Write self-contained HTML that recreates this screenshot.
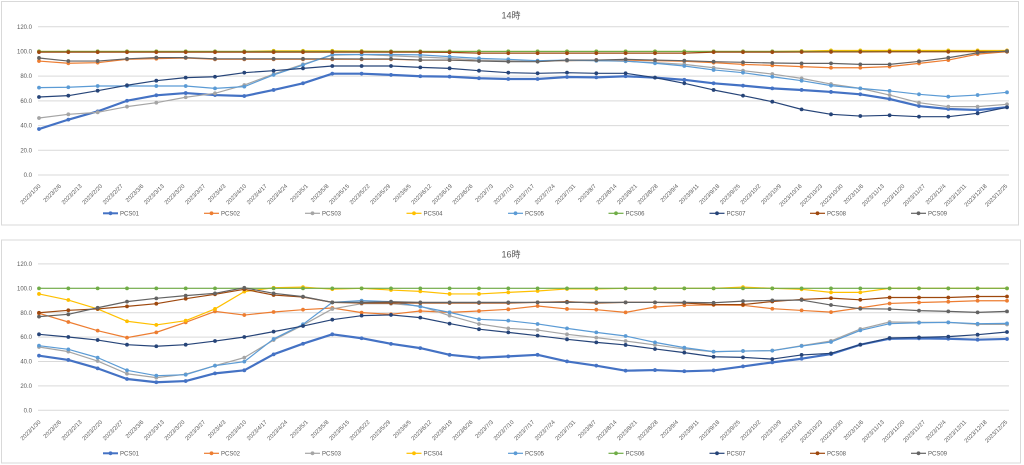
<!DOCTYPE html>
<html><head><meta charset="utf-8"><style>
html,body{margin:0;padding:0;background:#fff;}
svg{display:block;font-family:"Liberation Sans","Noto Sans CJK JP",sans-serif;}
.pl{fill:none;vector-effect:non-scaling-stroke;stroke-linejoin:round;}
</style></head><body>
<svg width="1024" height="465" viewBox="0 0 1024 465" xmlns="http://www.w3.org/2000/svg">
<defs>
<marker id="m1" markerUnits="userSpaceOnUse" markerWidth="6" markerHeight="6" refX="3" refY="3" overflow="visible"><ellipse cx="3" cy="3" rx="1.9" ry="1.55" fill="#4472C4"/></marker>
<marker id="m2" markerUnits="userSpaceOnUse" markerWidth="6" markerHeight="6" refX="3" refY="3" overflow="visible"><ellipse cx="3" cy="3" rx="1.9" ry="1.55" fill="#ED7D31"/></marker>
<marker id="m3" markerUnits="userSpaceOnUse" markerWidth="6" markerHeight="6" refX="3" refY="3" overflow="visible"><ellipse cx="3" cy="3" rx="1.9" ry="1.55" fill="#A5A5A5"/></marker>
<marker id="m4" markerUnits="userSpaceOnUse" markerWidth="6" markerHeight="6" refX="3" refY="3" overflow="visible"><ellipse cx="3" cy="3" rx="1.9" ry="1.55" fill="#FFC000"/></marker>
<marker id="m5" markerUnits="userSpaceOnUse" markerWidth="6" markerHeight="6" refX="3" refY="3" overflow="visible"><ellipse cx="3" cy="3" rx="1.9" ry="1.55" fill="#5B9BD5"/></marker>
<marker id="m6" markerUnits="userSpaceOnUse" markerWidth="6" markerHeight="6" refX="3" refY="3" overflow="visible"><ellipse cx="3" cy="3" rx="1.9" ry="1.55" fill="#70AD47"/></marker>
<marker id="m7" markerUnits="userSpaceOnUse" markerWidth="6" markerHeight="6" refX="3" refY="3" overflow="visible"><ellipse cx="3" cy="3" rx="1.9" ry="1.55" fill="#264478"/></marker>
<marker id="m8" markerUnits="userSpaceOnUse" markerWidth="6" markerHeight="6" refX="3" refY="3" overflow="visible"><ellipse cx="3" cy="3" rx="1.9" ry="1.55" fill="#9E480E"/></marker>
<marker id="m9" markerUnits="userSpaceOnUse" markerWidth="6" markerHeight="6" refX="3" refY="3" overflow="visible"><ellipse cx="3" cy="3" rx="1.9" ry="1.55" fill="#636363"/></marker>
</defs>
<rect width="1024" height="465" fill="#fff"/>

<!-- ============ TOP CHART ============ -->
<rect x="1.5" y="1.5" width="1017" height="223.5" fill="#fff" stroke="#D9D9D9" stroke-width="1"/>
<text x="511" y="18.5" font-size="9" fill="#595959" text-anchor="middle">14時</text>
<g stroke="#D9D9D9" stroke-width="1">
<line x1="38" y1="26.7" x2="1009" y2="26.7"/><line x1="38" y1="51.4" x2="1009" y2="51.4"/><line x1="38" y1="76.1" x2="1009" y2="76.1"/><line x1="38" y1="100.9" x2="1009" y2="100.9"/><line x1="38" y1="125.6" x2="1009" y2="125.6"/><line x1="38" y1="150.3" x2="1009" y2="150.3"/><line x1="38" y1="175" x2="1009" y2="175"/>
</g>
<g font-size="6" fill="#595959" text-anchor="end">
<text x="32" y="28.8">120.0</text><text x="32" y="53.5">100.0</text><text x="32" y="78.2">80.0</text><text x="32" y="103">60.0</text><text x="32" y="127.7">40.0</text><text x="32" y="152.4">20.0</text><text x="32" y="177.1">0.0</text>
</g>
<g font-size="5.8" fill="#595959" text-anchor="end">
<text transform="translate(41,186.5) rotate(-45)">2023/1/30</text>
<text transform="translate(61.6,186.5) rotate(-45)">2023/2/6</text>
<text transform="translate(82.1,186.5) rotate(-45)">2023/2/13</text>
<text transform="translate(102.7,186.5) rotate(-45)">2023/2/20</text>
<text transform="translate(123.3,186.5) rotate(-45)">2023/2/27</text>
<text transform="translate(143.9,186.5) rotate(-45)">2023/3/6</text>
<text transform="translate(164.4,186.5) rotate(-45)">2023/3/13</text>
<text transform="translate(185,186.5) rotate(-45)">2023/3/20</text>
<text transform="translate(205.6,186.5) rotate(-45)">2023/3/27</text>
<text transform="translate(226.1,186.5) rotate(-45)">2023/4/3</text>
<text transform="translate(246.7,186.5) rotate(-45)">2023/4/10</text>
<text transform="translate(267.3,186.5) rotate(-45)">2023/4/17</text>
<text transform="translate(287.8,186.5) rotate(-45)">2023/4/24</text>
<text transform="translate(308.4,186.5) rotate(-45)">2023/5/1</text>
<text transform="translate(329,186.5) rotate(-45)">2023/5/8</text>
<text transform="translate(349.6,186.5) rotate(-45)">2023/5/15</text>
<text transform="translate(370.1,186.5) rotate(-45)">2023/5/22</text>
<text transform="translate(390.7,186.5) rotate(-45)">2023/5/29</text>
<text transform="translate(411.3,186.5) rotate(-45)">2023/6/5</text>
<text transform="translate(431.8,186.5) rotate(-45)">2023/6/12</text>
<text transform="translate(452.4,186.5) rotate(-45)">2023/6/19</text>
<text transform="translate(473,186.5) rotate(-45)">2023/6/26</text>
<text transform="translate(493.5,186.5) rotate(-45)">2023/7/3</text>
<text transform="translate(514.1,186.5) rotate(-45)">2023/7/10</text>
<text transform="translate(534.7,186.5) rotate(-45)">2023/7/17</text>
<text transform="translate(555.3,186.5) rotate(-45)">2023/7/24</text>
<text transform="translate(575.8,186.5) rotate(-45)">2023/7/31</text>
<text transform="translate(596.4,186.5) rotate(-45)">2023/8/7</text>
<text transform="translate(617,186.5) rotate(-45)">2023/8/14</text>
<text transform="translate(637.5,186.5) rotate(-45)">2023/8/21</text>
<text transform="translate(658.1,186.5) rotate(-45)">2023/8/28</text>
<text transform="translate(678.7,186.5) rotate(-45)">2023/9/4</text>
<text transform="translate(699.2,186.5) rotate(-45)">2023/9/11</text>
<text transform="translate(719.8,186.5) rotate(-45)">2023/9/18</text>
<text transform="translate(740.4,186.5) rotate(-45)">2023/9/25</text>
<text transform="translate(761,186.5) rotate(-45)">2023/10/2</text>
<text transform="translate(781.5,186.5) rotate(-45)">2023/10/9</text>
<text transform="translate(802.1,186.5) rotate(-45)">2023/10/16</text>
<text transform="translate(822.7,186.5) rotate(-45)">2023/10/23</text>
<text transform="translate(843.2,186.5) rotate(-45)">2023/10/30</text>
<text transform="translate(863.8,186.5) rotate(-45)">2023/11/6</text>
<text transform="translate(884.4,186.5) rotate(-45)">2023/11/13</text>
<text transform="translate(904.9,186.5) rotate(-45)">2023/11/20</text>
<text transform="translate(925.5,186.5) rotate(-45)">2023/11/27</text>
<text transform="translate(946.1,186.5) rotate(-45)">2023/12/4</text>
<text transform="translate(966.7,186.5) rotate(-45)">2023/12/11</text>
<text transform="translate(987.2,186.5) rotate(-45)">2023/12/18</text>
<text transform="translate(1007.8,186.5) rotate(-45)">2023/12/25</text>
</g>
<g transform="translate(0,175) scale(1,-1.2358)">
<polyline class="pl" stroke="#4472C4" stroke-width="2.2" marker-start="url(#m1)" marker-mid="url(#m1)" marker-end="url(#m1)" points="39,37.2 68.33,44.8 97.66,51.5 127,60.1 156.3,64.5 185.7,66.3 215,64.7 244.3,63.9 273.6,68.8 303,74.2 332.3,82 361.6,82 391,81 420.3,79.9 449.6,79.6 479,78.3 508.3,77.7 537.6,77.7 567,79.3 596.3,79 625.6,79.9 655,78.8 684.3,77 713.6,74.2 743,72.3 772.3,70.1 801.6,68.8 831,67.2 860.3,65.3 889.6,61.5 919,55.8 948.3,53.4 977.6,52.6 1007,54.8"/>
<polyline class="pl" stroke="#ED7D31" stroke-width="1.2" marker-start="url(#m2)" marker-mid="url(#m2)" marker-end="url(#m2)" points="39,92.2 68.33,90.4 97.66,90.9 127,93.6 156.3,94.1 185.7,94.7 215,93.6 244.3,93.6 273.6,93.6 303,93.6 332.3,93.6 361.6,93.6 391,93.6 420.3,93 449.6,93 479,92.5 508.3,92 537.6,92 567,92.5 596.3,93 625.6,93 655,92.5 684.3,92 713.6,90.9 743,89.5 772.3,88.7 801.6,87.7 831,86.8 860.3,86.8 889.6,87.7 919,90.3 948.3,93 977.6,97.8 1007,99.8"/>
<polyline class="pl" stroke="#A5A5A5" stroke-width="1.2" marker-start="url(#m3)" marker-mid="url(#m3)" marker-end="url(#m3)" points="39,46.1 68.33,49.1 97.66,50.7 127,55.3 156.3,58.5 185.7,62.9 215,66.1 244.3,72.8 273.6,81.7 303,89.6 332.3,97 361.6,97.5 391,96.5 420.3,95.5 449.6,94.5 479,93 508.3,92.5 537.6,92 567,92.5 596.3,92.5 625.6,92 655,91 684.3,89.5 713.6,86.8 743,84.4 772.3,81.7 801.6,78.2 831,73.6 860.3,70.1 889.6,64.7 919,58.5 948.3,55.3 977.6,55.3 1007,57.2"/>
<polyline class="pl" stroke="#FFC000" stroke-width="1.2" marker-start="url(#m4)" marker-mid="url(#m4)" marker-end="url(#m4)" points="39,100 68.33,100 97.66,100 127,100 156.3,100 185.7,100 215,100 244.3,100 273.6,100.5 303,100.5 332.3,100.5 361.6,100.3 391,100 420.3,100 449.6,100 479,100 508.3,100 537.6,100 567,100 596.3,100 625.6,100 655,100 684.3,100 713.6,100 743,100 772.3,100 801.6,100.3 831,100.8 860.3,100.8 889.6,100.8 919,100.8 948.3,100.8 977.6,100.8 1007,100.8"/>
<polyline class="pl" stroke="#5B9BD5" stroke-width="1.2" marker-start="url(#m5)" marker-mid="url(#m5)" marker-end="url(#m5)" points="39,70.7 68.33,71 97.66,72 127,72 156.3,72 185.7,72 215,70.1 244.3,71.5 273.6,81 303,89 332.3,97.5 361.6,97.5 391,97.5 420.3,97.2 449.6,95.8 479,94.4 508.3,93.6 537.6,92.5 567,93 596.3,92.5 625.6,92.2 655,90.4 684.3,88.2 713.6,85 743,82.8 772.3,79.5 801.6,76.3 831,72.3 860.3,70.1 889.6,68 919,65.3 948.3,63.4 977.6,64.7 1007,66.9"/>
<polyline class="pl" stroke="#70AD47" stroke-width="1.2" marker-start="url(#m6)" marker-mid="url(#m6)" marker-end="url(#m6)" points="39,100 68.33,100 97.66,100 127,100 156.3,100 185.7,100 215,100 244.3,100 273.6,100 303,100 332.3,100 361.6,100 391,100 420.3,100 449.6,100 479,100 508.3,100 537.6,100 567,100 596.3,100 625.6,100 655,100 684.3,100 713.6,100 743,100 772.3,100 801.6,100 831,100 860.3,100 889.6,100 919,100 948.3,100 977.6,100 1007,100"/>
<polyline class="pl" stroke="#264478" stroke-width="1.2" marker-start="url(#m7)" marker-mid="url(#m7)" marker-end="url(#m7)" points="39,63.1 68.33,64.2 97.66,68.2 127,72.6 156.3,76.3 185.7,78.8 215,79.5 244.3,82.8 273.6,84.4 303,86.3 332.3,88.2 361.6,88.2 391,88.2 420.3,87.1 449.6,86.3 479,84.4 508.3,82.8 537.6,82.3 567,82.8 596.3,82.3 625.6,82.3 655,78.8 684.3,74.2 713.6,68.8 743,64.2 772.3,59.3 801.6,53.1 831,49.1 860.3,47.7 889.6,48.3 919,47.2 948.3,47.2 977.6,49.9 1007,54.8"/>
<polyline class="pl" stroke="#9E480E" stroke-width="1.2" marker-start="url(#m8)" marker-mid="url(#m8)" marker-end="url(#m8)" points="39,99.4 68.33,99.4 97.66,99.4 127,99.4 156.3,99.4 185.7,99.4 215,99.4 244.3,99.4 273.6,99.4 303,99.4 332.3,99.4 361.6,99.4 391,99.4 420.3,99.4 449.6,99.2 479,98.6 508.3,98.6 537.6,98.6 567,98.6 596.3,98.6 625.6,98.6 655,98.6 684.3,98.6 713.6,99.4 743,99.4 772.3,99.4 801.6,99.5 831,99.6 860.3,99.6 889.6,99.7 919,99.7 948.3,99.7 977.6,99.8 1007,99.8"/>
<polyline class="pl" stroke="#636363" stroke-width="1.2" marker-start="url(#m9)" marker-mid="url(#m9)" marker-end="url(#m9)" points="39,94.7 68.33,92.2 97.66,92.2 127,94 156.3,95 185.7,95 215,94 244.3,94 273.6,94 303,94 332.3,94 361.6,93.9 391,93.9 420.3,93 449.6,93 479,92.2 508.3,91.7 537.6,91.7 567,93 596.3,93 625.6,93.6 655,93 684.3,92.5 713.6,91.7 743,91.2 772.3,90.6 801.6,90.3 831,90.3 860.3,89.5 889.6,89.5 919,91.9 948.3,94.9 977.6,98.9 1007,100.3"/>
</g>
<g font-size="6" fill="#595959">
<line x1="103" y1="213.3" x2="118" y2="213.3" stroke="#4472C4" stroke-width="2"/><circle cx="110.5" cy="213.3" r="1.9" fill="#4472C4"/><text x="120" y="215.5">PCS01</text>
<line x1="204" y1="213.3" x2="219" y2="213.3" stroke="#ED7D31" stroke-width="1.2"/><circle cx="211.5" cy="213.3" r="1.9" fill="#ED7D31"/><text x="221" y="215.5">PCS02</text>
<line x1="305" y1="213.3" x2="320" y2="213.3" stroke="#A5A5A5" stroke-width="1.2"/><circle cx="312.5" cy="213.3" r="1.9" fill="#A5A5A5"/><text x="322" y="215.5">PCS03</text>
<line x1="406.5" y1="213.3" x2="421.5" y2="213.3" stroke="#FFC000" stroke-width="1.2"/><circle cx="414" cy="213.3" r="1.9" fill="#FFC000"/><text x="423.5" y="215.5">PCS04</text>
<line x1="508" y1="213.3" x2="523" y2="213.3" stroke="#5B9BD5" stroke-width="1.2"/><circle cx="515.5" cy="213.3" r="1.9" fill="#5B9BD5"/><text x="525" y="215.5">PCS05</text>
<line x1="608.5" y1="213.3" x2="623.5" y2="213.3" stroke="#70AD47" stroke-width="1.2"/><circle cx="616" cy="213.3" r="1.9" fill="#70AD47"/><text x="625.5" y="215.5">PCS06</text>
<line x1="709.5" y1="213.3" x2="724.5" y2="213.3" stroke="#264478" stroke-width="1.2"/><circle cx="717" cy="213.3" r="1.9" fill="#264478"/><text x="726.5" y="215.5">PCS07</text>
<line x1="810" y1="213.3" x2="825" y2="213.3" stroke="#9E480E" stroke-width="1.2"/><circle cx="817.5" cy="213.3" r="1.9" fill="#9E480E"/><text x="827" y="215.5">PCS08</text>
<line x1="911" y1="213.3" x2="926" y2="213.3" stroke="#636363" stroke-width="1.2"/><circle cx="918.5" cy="213.3" r="1.9" fill="#636363"/><text x="928" y="215.5">PCS09</text>
</g>

<!-- ============ BOTTOM CHART ============ -->
<rect x="1.5" y="240" width="1019" height="223" fill="#fff" stroke="#D9D9D9" stroke-width="1"/>
<text x="511" y="257.5" font-size="9" fill="#595959" text-anchor="middle">16時</text>
<g stroke="#D9D9D9" stroke-width="1">
<line x1="38" y1="263.9" x2="1009" y2="263.9"/><line x1="38" y1="288.3" x2="1009" y2="288.3"/><line x1="38" y1="312.7" x2="1009" y2="312.7"/><line x1="38" y1="337.1" x2="1009" y2="337.1"/><line x1="38" y1="361.5" x2="1009" y2="361.5"/><line x1="38" y1="385.9" x2="1009" y2="385.9"/><line x1="38" y1="410.3" x2="1009" y2="410.3"/>
</g>
<g font-size="6" fill="#595959" text-anchor="end">
<text x="32" y="266">120.0</text><text x="32" y="290.4">100.0</text><text x="32" y="314.8">80.0</text><text x="32" y="339.2">60.0</text><text x="32" y="363.6">40.0</text><text x="32" y="388">20.0</text><text x="32" y="412.4">0.0</text>
</g>
<g font-size="5.8" fill="#595959" text-anchor="end">
<text transform="translate(41,422.5) rotate(-45)">2023/1/30</text>
<text transform="translate(61.6,422.5) rotate(-45)">2023/2/6</text>
<text transform="translate(82.1,422.5) rotate(-45)">2023/2/13</text>
<text transform="translate(102.7,422.5) rotate(-45)">2023/2/20</text>
<text transform="translate(123.3,422.5) rotate(-45)">2023/2/27</text>
<text transform="translate(143.9,422.5) rotate(-45)">2023/3/6</text>
<text transform="translate(164.4,422.5) rotate(-45)">2023/3/13</text>
<text transform="translate(185,422.5) rotate(-45)">2023/3/20</text>
<text transform="translate(205.6,422.5) rotate(-45)">2023/3/27</text>
<text transform="translate(226.1,422.5) rotate(-45)">2023/4/3</text>
<text transform="translate(246.7,422.5) rotate(-45)">2023/4/10</text>
<text transform="translate(267.3,422.5) rotate(-45)">2023/4/17</text>
<text transform="translate(287.8,422.5) rotate(-45)">2023/4/24</text>
<text transform="translate(308.4,422.5) rotate(-45)">2023/5/1</text>
<text transform="translate(329,422.5) rotate(-45)">2023/5/8</text>
<text transform="translate(349.6,422.5) rotate(-45)">2023/5/15</text>
<text transform="translate(370.1,422.5) rotate(-45)">2023/5/22</text>
<text transform="translate(390.7,422.5) rotate(-45)">2023/5/29</text>
<text transform="translate(411.3,422.5) rotate(-45)">2023/6/5</text>
<text transform="translate(431.8,422.5) rotate(-45)">2023/6/12</text>
<text transform="translate(452.4,422.5) rotate(-45)">2023/6/19</text>
<text transform="translate(473,422.5) rotate(-45)">2023/6/26</text>
<text transform="translate(493.5,422.5) rotate(-45)">2023/7/3</text>
<text transform="translate(514.1,422.5) rotate(-45)">2023/7/10</text>
<text transform="translate(534.7,422.5) rotate(-45)">2023/7/17</text>
<text transform="translate(555.3,422.5) rotate(-45)">2023/7/24</text>
<text transform="translate(575.8,422.5) rotate(-45)">2023/7/31</text>
<text transform="translate(596.4,422.5) rotate(-45)">2023/8/7</text>
<text transform="translate(617,422.5) rotate(-45)">2023/8/14</text>
<text transform="translate(637.5,422.5) rotate(-45)">2023/8/21</text>
<text transform="translate(658.1,422.5) rotate(-45)">2023/8/28</text>
<text transform="translate(678.7,422.5) rotate(-45)">2023/9/4</text>
<text transform="translate(699.2,422.5) rotate(-45)">2023/9/11</text>
<text transform="translate(719.8,422.5) rotate(-45)">2023/9/18</text>
<text transform="translate(740.4,422.5) rotate(-45)">2023/9/25</text>
<text transform="translate(761,422.5) rotate(-45)">2023/10/2</text>
<text transform="translate(781.5,422.5) rotate(-45)">2023/10/9</text>
<text transform="translate(802.1,422.5) rotate(-45)">2023/10/16</text>
<text transform="translate(822.7,422.5) rotate(-45)">2023/10/23</text>
<text transform="translate(843.2,422.5) rotate(-45)">2023/10/30</text>
<text transform="translate(863.8,422.5) rotate(-45)">2023/11/6</text>
<text transform="translate(884.4,422.5) rotate(-45)">2023/11/13</text>
<text transform="translate(904.9,422.5) rotate(-45)">2023/11/20</text>
<text transform="translate(925.5,422.5) rotate(-45)">2023/11/27</text>
<text transform="translate(946.1,422.5) rotate(-45)">2023/12/4</text>
<text transform="translate(966.7,422.5) rotate(-45)">2023/12/11</text>
<text transform="translate(987.2,422.5) rotate(-45)">2023/12/18</text>
<text transform="translate(1007.8,422.5) rotate(-45)">2023/12/25</text>
</g>
<g transform="translate(0,410.33) scale(1,-1.22)">
<polyline class="pl" stroke="#4472C4" stroke-width="2.2" marker-start="url(#m1)" marker-mid="url(#m1)" marker-end="url(#m1)" points="39,44.8 68.33,41.3 97.66,34.4 127,25.7 156.3,23 185.7,24 215,30.3 244.3,32.8 273.6,45.9 303,54.6 332.3,62.3 361.6,59.1 391,54.5 420.3,51 449.6,45.5 479,43.1 508.3,44.2 537.6,45.5 567,40.1 596.3,36.6 625.6,32.5 655,33 684.3,32 713.6,32.7 743,36 772.3,39.3 801.6,42.3 831,46.1 860.3,53.8 889.6,58.7 919,59 948.3,58.7 977.6,57.9 1007,58.5"/>
<polyline class="pl" stroke="#ED7D31" stroke-width="1.2" marker-start="url(#m2)" marker-mid="url(#m2)" marker-end="url(#m2)" points="39,79.5 68.33,72.4 97.66,65.3 127,59.6 156.3,63.9 185.7,72.1 215,81.1 244.3,78.1 273.6,80.6 303,82.5 332.3,83.9 361.6,80.1 391,78.7 420.3,81.4 449.6,80.3 479,81.4 508.3,82.8 537.6,85.5 567,83.1 596.3,82.5 625.6,80.3 655,84.7 684.3,86.1 713.6,86.4 743,86.1 772.3,83.3 801.6,81.9 831,80.5 860.3,84 889.6,87.6 919,88.4 948.3,89 977.6,89.8 1007,89.8"/>
<polyline class="pl" stroke="#A5A5A5" stroke-width="1.2" marker-start="url(#m3)" marker-mid="url(#m3)" marker-end="url(#m3)" points="39,51.9 68.33,48.1 97.66,40.4 127,30 156.3,26.8 185.7,29.6 215,36.6 244.3,43.2 273.6,57.6 303,69.9 332.3,83.1 361.6,87.4 391,87.4 420.3,85.5 449.6,77.6 479,70.8 508.3,67.2 537.6,65.8 567,62.3 596.3,59.6 625.6,56.8 655,53.6 684.3,50.3 713.6,48 743,48.6 772.3,49 801.6,53 831,56.9 860.3,66.6 889.6,72.4 919,72.1 948.3,72.1 977.6,70.4 1007,70.4"/>
<polyline class="pl" stroke="#FFC000" stroke-width="1.2" marker-start="url(#m4)" marker-mid="url(#m4)" marker-end="url(#m4)" points="39,95.4 68.33,90.4 97.66,83.1 127,73 156.3,70 185.7,73.5 215,83.1 244.3,97.3 273.6,100.5 303,101 332.3,99.3 361.6,100 391,98.6 420.3,97.5 449.6,95.4 479,95.4 508.3,96.7 537.6,97.8 567,99.5 596.3,99.5 625.6,100 655,100 684.3,100 713.6,100 743,101 772.3,100 801.6,99.2 831,96.7 860.3,96.7 889.6,100 919,100 948.3,100 977.6,100 1007,100"/>
<polyline class="pl" stroke="#5B9BD5" stroke-width="1.2" marker-start="url(#m5)" marker-mid="url(#m5)" marker-end="url(#m5)" points="39,53 68.33,50 97.66,43.2 127,32.8 156.3,28.4 185.7,29.2 215,36.6 244.3,39.9 273.6,58.5 303,70.5 332.3,88.5 361.6,89.9 391,89.1 420.3,85 449.6,80.3 479,74.6 508.3,73.5 537.6,70.8 567,67.2 596.3,63.9 625.6,60.9 655,55.7 684.3,51.4 713.6,48.1 743,48.6 772.3,48.9 801.6,52.7 831,56 860.3,65.5 889.6,71 919,71.8 948.3,72.1 977.6,71 1007,71.3"/>
<polyline class="pl" stroke="#70AD47" stroke-width="1.2" marker-start="url(#m6)" marker-mid="url(#m6)" marker-end="url(#m6)" points="39,100 68.33,100 97.66,100 127,100 156.3,100 185.7,100 215,100 244.3,100 273.6,100 303,100 332.3,100 361.6,100 391,100 420.3,100 449.6,100 479,100 508.3,100 537.6,100 567,100 596.3,100 625.6,100 655,100 684.3,100 713.6,100 743,100 772.3,100 801.6,100 831,100 860.3,100 889.6,100 919,100 948.3,100 977.6,100 1007,100"/>
<polyline class="pl" stroke="#264478" stroke-width="1.2" marker-start="url(#m7)" marker-mid="url(#m7)" marker-end="url(#m7)" points="39,62.3 68.33,60.1 97.66,57.6 127,53.8 156.3,52.5 185.7,53.8 215,56.8 244.3,60.1 273.6,64.5 303,69.1 332.3,74.3 361.6,77.6 391,78.2 420.3,76 449.6,71.1 479,66.5 508.3,63.9 537.6,61.2 567,58.2 596.3,55.7 625.6,53.6 655,50.3 684.3,47.3 713.6,43.9 743,43.4 772.3,42 801.6,45.4 831,46.7 860.3,53.8 889.6,59.3 919,59.8 948.3,60.4 977.6,62 1007,64.2"/>
<polyline class="pl" stroke="#9E480E" stroke-width="1.2" marker-start="url(#m8)" marker-mid="url(#m8)" marker-end="url(#m8)" points="39,80 68.33,82 97.66,83.1 127,85.2 156.3,87.4 185.7,91.5 215,95.1 244.3,99.2 273.6,94.5 303,92.9 332.3,88.5 361.6,88 391,88 420.3,88 449.6,88 479,88 508.3,88 537.6,88.5 567,89 596.3,88 625.6,88.5 655,88.5 684.3,88 713.6,86.7 743,86.7 772.3,89.2 801.6,90.9 831,92 860.3,90.6 889.6,92.5 919,92.5 948.3,92.5 977.6,93.3 1007,93.3"/>
<polyline class="pl" stroke="#636363" stroke-width="1.2" marker-start="url(#m9)" marker-mid="url(#m9)" marker-end="url(#m9)" points="39,76.8 68.33,78.7 97.66,84.1 127,89.1 156.3,91.8 185.7,94 215,95.9 244.3,100.5 273.6,95.9 303,93.2 332.3,88.5 361.6,88.5 391,89 420.3,88.5 449.6,88.5 479,88.5 508.3,88.5 537.6,88.5 567,88.5 596.3,88.5 625.6,88.5 655,88.5 684.3,88.5 713.6,88.2 743,89.5 772.3,90.1 801.6,90.4 831,86.3 860.3,83.3 889.6,83 919,81.7 948.3,81.1 977.6,80.3 1007,81.1"/>
</g>
<g font-size="6" fill="#595959">
<line x1="103" y1="453.3" x2="118" y2="453.3" stroke="#4472C4" stroke-width="2"/><circle cx="110.5" cy="453.3" r="1.9" fill="#4472C4"/><text x="120" y="455.5">PCS01</text>
<line x1="204" y1="453.3" x2="219" y2="453.3" stroke="#ED7D31" stroke-width="1.2"/><circle cx="211.5" cy="453.3" r="1.9" fill="#ED7D31"/><text x="221" y="455.5">PCS02</text>
<line x1="305" y1="453.3" x2="320" y2="453.3" stroke="#A5A5A5" stroke-width="1.2"/><circle cx="312.5" cy="453.3" r="1.9" fill="#A5A5A5"/><text x="322" y="455.5">PCS03</text>
<line x1="406.5" y1="453.3" x2="421.5" y2="453.3" stroke="#FFC000" stroke-width="1.2"/><circle cx="414" cy="453.3" r="1.9" fill="#FFC000"/><text x="423.5" y="455.5">PCS04</text>
<line x1="508" y1="453.3" x2="523" y2="453.3" stroke="#5B9BD5" stroke-width="1.2"/><circle cx="515.5" cy="453.3" r="1.9" fill="#5B9BD5"/><text x="525" y="455.5">PCS05</text>
<line x1="608.5" y1="453.3" x2="623.5" y2="453.3" stroke="#70AD47" stroke-width="1.2"/><circle cx="616" cy="453.3" r="1.9" fill="#70AD47"/><text x="625.5" y="455.5">PCS06</text>
<line x1="709.5" y1="453.3" x2="724.5" y2="453.3" stroke="#264478" stroke-width="1.2"/><circle cx="717" cy="453.3" r="1.9" fill="#264478"/><text x="726.5" y="455.5">PCS07</text>
<line x1="810" y1="453.3" x2="825" y2="453.3" stroke="#9E480E" stroke-width="1.2"/><circle cx="817.5" cy="453.3" r="1.9" fill="#9E480E"/><text x="827" y="455.5">PCS08</text>
<line x1="911" y1="453.3" x2="926" y2="453.3" stroke="#636363" stroke-width="1.2"/><circle cx="918.5" cy="453.3" r="1.9" fill="#636363"/><text x="928" y="455.5">PCS09</text>
</g>
</svg>
</body></html>
